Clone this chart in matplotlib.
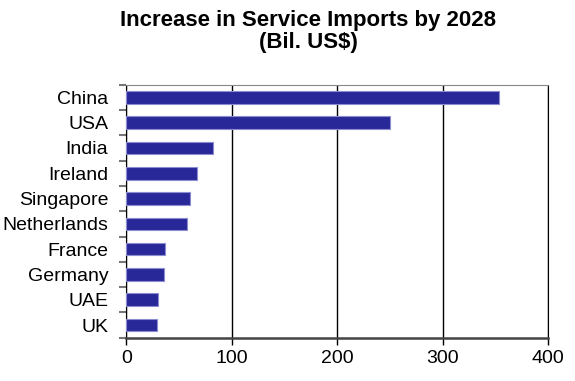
import matplotlib
matplotlib.use('Agg')
import matplotlib.pyplot as plt
import numpy as np

countries = ["China", "USA", "India", "Ireland", "Singapore", "Netherlands",
             "France", "Germany", "UAE", "UK"]
values = [353, 250, 82, 67, 60, 57.5, 36.5, 35.5, 30, 29]

plt.rcParams['font.family'] = ['Liberation Sans', 'DejaVu Sans']

fig = plt.figure(figsize=(5.75, 3.81), dpi=100)
ax = fig.add_axes([0.2197, 0.1136, 0.7339, 0.6641])

y = np.arange(len(countries))
ax.barh(y, values, height=0.5, color='#282898', edgecolor='#8c8cd0', linewidth=0.8, zorder=3)
ax.set_ylim(len(countries) - 0.5, -0.5)
ax.set_xlim(0, 400)
ax.set_xticks([0, 100, 200, 300, 400])
ax.xaxis.grid(True, color='black', linewidth=1.0, zorder=0)
ax.set_yticks(y)
ax.set_yticklabels(countries)
ax.set_yticks(np.arange(-0.5, len(countries), 1), minor=True)
ax.tick_params(axis='y', which='major', length=0, labelsize=14, pad=13)
ax.tick_params(axis='y', which='minor', length=5, color='#777777', width=1.5)
ax.tick_params(axis='x', length=5, width=1, labelsize=14, pad=4)

ax.spines['top'].set_color('#888888')
ax.spines['bottom'].set_color('#444444')
ax.spines['bottom'].set_linewidth(1.8)
ax.spines['left'].set_color('black')
ax.spines['right'].set_color('black')

fig.text(0.536, 0.975, "Increase in Service Imports by 2028\n(Bil. US$)",
         ha='center', va='top', fontsize=16, fontweight='bold', linespacing=1.1)

fig.savefig('out.png', dpi=100)
